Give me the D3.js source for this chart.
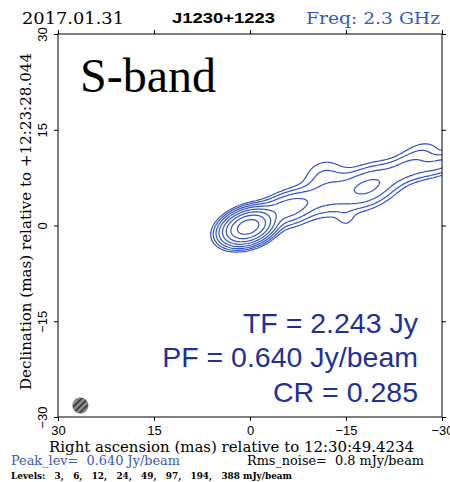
<!DOCTYPE html>
<html>
<head>
<meta charset="utf-8">
<script src="https://cdn.jsdelivr.net/npm/d3@7"></script>
<style>
  body { margin: 0; background: #fff; }
  svg { display: block; }
  text { white-space: pre; }
</style>
</head>
<body>
<div id="chart"></div>
<script>
// contour levels in mJy/beam
var levels = [3, 6, 12, 24, 49, 97, 194, 388];
var raTicks = [30, 15, 0, -15, -30];
var decTicks = [30, 15, 0, -15, -30];

// gaussian components: offset (mas), peak (mJy/beam), fwhm (mas), PA (deg)
var compRA = [0.31, -4.5, -6.25, -12.5, -18.5, -24.2, -30, -27, -11.5, -15];
var compDec = [-0.24, 2.4, 2.6, 4.8, 6.1, 8.9, 9.6, 11.4, 8.0, 1.0];
var compPeak = [600, 22, 18, 13, 26, 13, 14, 3.5, 5, 3];
var compMaj = [4.33, 9.0, 5.2, 7.1, 6.6, 6.0, 8.0, 5.0, 5.0, 2.6];
var compMin = [2.6, 2.6, 3.4, 4.2, 3.8, 2.8, 2.2, 3.5, 4.0, 2.6];
var compPA = [-71, -72, -70, -70, -65, -62, -72, -75, -70, 0];

// restoring beam (mas)
var beamRA = 26.5, beamDec = -28.2, beamMaj = 2.4, beamMin = 2.4;

var obsDate = "2017.01.31";
var source = "J1230+1223";
var freqGHz = 2.3;
var band = "S-band";
var totalFlux = 2.243;  // Jy
var peakFlux = 0.640;   // Jy/beam
var rmsNoise = 0.8;     // mJy/beam
var raRef = "12:30:49.4234";
var decRef = "+12:23:28.044";

var width = 450, height = 482;
var pLeft = 58, pRight = 442, pTop = 34, pBottom = 417;

var x = d3.scaleLinear().domain([30, -30]).range([pLeft, pRight]);
var y = d3.scaleLinear().domain([30, -30]).range([pTop, pBottom]);

var svg = d3.select("#chart").append("svg")
  .attr("width", width)
  .attr("height", height)
  .style("font-family", "'Liberation Sans', Arial, sans-serif");

var defs = svg.append("defs");
defs.append("clipPath").attr("id", "frame")
  .append("rect")
  .attr("x", pLeft).attr("y", pTop)
  .attr("width", pRight - pLeft).attr("height", pBottom - pTop);

// brightness grid from the components
var step = 0.25, start = 34;
var n = Math.round((2 * start) / step) + 1;
var values = new Float64Array(n * n);
var k = 2 * Math.sqrt(2 * Math.log(2));
for (var j = 0; j < n; j++) {
  var dec = start - (j + 0.5) * step;
  for (var i = 0; i < n; i++) {
    var ra = start - (i + 0.5) * step;
    var v = 0;
    for (var c = 0; c < compRA.length; c++) {
      var pa = compPA[c] * Math.PI / 180;
      var du = -(ra - compRA[c]), dv = dec - compDec[c];
      var ax = -Math.sin(pa), ay = Math.cos(pa);
      var a = du * ax + dv * ay;
      var b = -du * ay + dv * ax;
      var sa = compMaj[c] / k, sb = compMin[c] / k;
      v += compPeak[c] * Math.exp(-(a * a) / (2 * sa * sa) - (b * b) / (2 * sb * sb));
    }
    values[j * n + i] = v;
  }
}

var contours = d3.contours().size([n, n]).thresholds(levels)(values);

var project = d3.geoTransform({
  point: function (gx, gy) {
    this.stream.point(x(start - gx * step), y(start - gy * step));
  }
});
var path = d3.geoPath(project);

svg.append("g")
  .attr("clip-path", "url(#frame)")
  .selectAll("path")
  .data(contours)
  .enter()
  .append("path")
  .attr("d", path)
  .attr("fill", "none")
  .attr("stroke", "#3352c8")
  .attr("stroke-width", 1.2);

// beam
var pat = defs.append("pattern")
  .attr("id", "hatch")
  .attr("patternUnits", "userSpaceOnUse")
  .attr("width", 4.4).attr("height", 4.4)
  .attr("patternTransform", "rotate(45)");
pat.append("rect").attr("width", 4.4).attr("height", 4.4).attr("fill", "#8a8a8a");
pat.append("line").attr("x1", 0.7).attr("y1", 0).attr("x2", 0.7).attr("y2", 4.4)
  .attr("stroke", "#2a2a2a").attr("stroke-width", 1.4);

svg.append("ellipse")
  .attr("cx", x(beamRA)).attr("cy", y(beamDec))
  .attr("rx", x(0) - x(beamMaj / 2)).attr("ry", y(0) - y(beamMin / 2))
  .attr("fill", "url(#hatch)")
  .attr("stroke", "#555").attr("stroke-width", 0.6);

// axes
var fmt = d3.format("d");
var gb = svg.append("g").attr("transform", "translate(0," + pBottom + ")")
  .call(d3.axisBottom(x).tickValues(raTicks).tickSizeInner(4).tickSizeOuter(0).tickPadding(5).tickFormat(fmt));
gb.selectAll("text").style("font-size", "13px").attr("fill", "#000");

var gl = svg.append("g").attr("transform", "translate(" + pLeft + ",0)")
  .call(d3.axisLeft(y).tickValues(decTicks).tickSizeInner(4).tickSizeOuter(0).tickFormat(fmt));
gl.selectAll("text")
  .attr("x", null).attr("dy", null)
  .attr("text-anchor", "middle")
  .attr("transform", "translate(-11,0) rotate(-90)")
  .style("font-size", "13px").attr("fill", "#000");

svg.append("g").attr("transform", "translate(0," + pTop + ")")
  .call(d3.axisTop(x).tickValues(raTicks).tickSizeInner(4).tickSizeOuter(0).tickFormat(""));
svg.append("g").attr("transform", "translate(" + pRight + ",0)")
  .call(d3.axisRight(y).tickValues(decTicks).tickSizeInner(4).tickSizeOuter(0).tickFormat(""));

svg.selectAll(".domain").remove();
svg.selectAll(".tick line").attr("stroke", "#000");

svg.append("rect")
  .attr("x", pLeft).attr("y", pTop)
  .attr("width", pRight - pLeft).attr("height", pBottom - pTop)
  .attr("fill", "none").attr("stroke", "#000").attr("stroke-width", 1);

// titles
var serif = "'DejaVu Serif', 'Liberation Serif', serif";
svg.append("text").attr("x", 22).attr("y", 24)
  .attr("textLength", 102).attr("lengthAdjust", "spacingAndGlyphs")
  .style("font-family", serif).style("font-size", "16px").text(obsDate);
svg.append("text").attr("x", 172).attr("y", 23)
  .attr("textLength", 103).attr("lengthAdjust", "spacingAndGlyphs")
  .style("font-size", "15px").style("font-weight", "bold").text(source);
svg.append("text").attr("x", 306).attr("y", 24)
  .attr("textLength", 134).attr("lengthAdjust", "spacingAndGlyphs")
  .attr("fill", "#3a58c4")
  .style("font-family", serif).style("font-size", "16px").text("Freq: " + freqGHz + " GHz");

svg.append("text").attr("x", 80).attr("y", 92)
  .style("font-family", "'Liberation Serif', 'Times New Roman', serif")
  .style("font-size", "48px").text(band);

var stats = [
  "TF = " + totalFlux.toFixed(3) + " Jy",
  "PF = " + peakFlux.toFixed(3) + " Jy/beam",
  "CR = " + (peakFlux / totalFlux).toFixed(3)
];
svg.selectAll(".stat").data(stats).enter().append("text")
  .attr("class", "stat")
  .attr("x", 418)
  .attr("y", function (d, i) { return 333 + i * 34.3; })
  .attr("text-anchor", "end")
  .attr("fill", "#1f2f9e")
  .style("font-size", "28.5px")
  .text(function (d) { return d; });

// axis titles
svg.append("text").attr("x", 231.5).attr("y", 452)
  .attr("text-anchor", "middle")
  .attr("textLength", 365).attr("lengthAdjust", "spacingAndGlyphs")
  .style("font-family", serif).style("font-size", "14px")
  .text("Right ascension (mas) relative to " + raRef);
svg.append("text")
  .attr("transform", "translate(31,221.5) rotate(-90)")
  .attr("text-anchor", "middle")
  .attr("textLength", 337).attr("lengthAdjust", "spacingAndGlyphs")
  .style("font-family", serif).style("font-size", "14px")
  .text("Declination (mas) relative to " + decRef);

// footer
svg.append("text").attr("x", 11).attr("y", 465)
  .attr("textLength", 169).attr("lengthAdjust", "spacingAndGlyphs")
  .attr("fill", "#3a58c4")
  .style("font-family", serif).style("font-size", "12px")
  .text("Peak_lev=  " + peakFlux.toFixed(3) + " Jy/beam");
svg.append("text").attr("x", 247).attr("y", 465)
  .attr("textLength", 177).attr("lengthAdjust", "spacingAndGlyphs")
  .style("font-family", serif).style("font-size", "12px")
  .text("Rms_noise=  " + rmsNoise + " mJy/beam");
svg.append("text").attr("x", 11).attr("y", 479)
  .attr("textLength", 281).attr("lengthAdjust", "spacingAndGlyphs")
  .style("font-family", serif).style("font-size", "9.5px").style("font-weight", "bold")
  .text("Levels:   " + levels.join(",   ") + " mJy/beam");
</script>
</body>
</html>
